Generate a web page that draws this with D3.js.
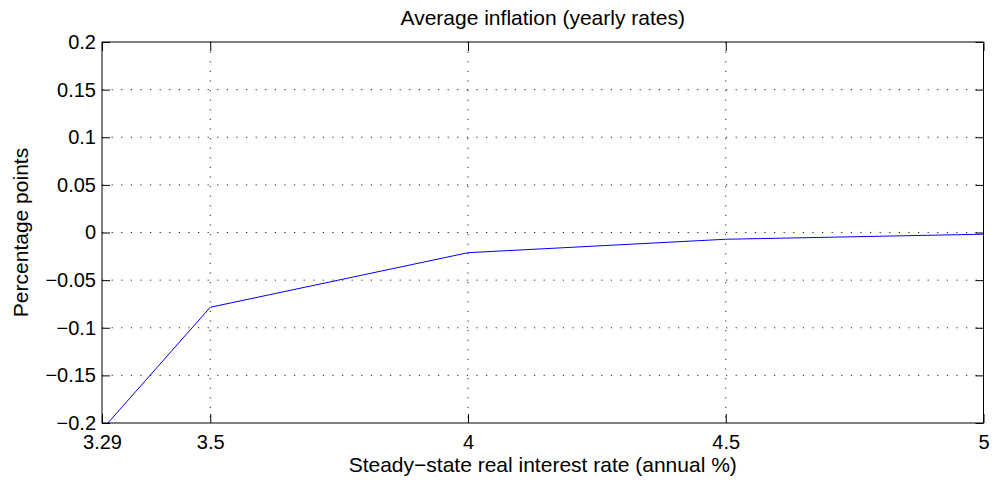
<!DOCTYPE html>
<html>
<head>
    <title>Average inflation (yearly rates)</title>
    <script src="https://d3js.org/d3.v7.min.js"></script>
    <style>
        body {
            margin: 0;
            background: #fff;
        }
        svg text {
            font-family: "Liberation Sans", Arial, sans-serif;
            fill: #000;
        }
    </style>
</head>
<body>
    <div id="chart"></div>
    <script>
        // Data
        const rates = [3.29, 3.5, 4, 4.5, 5];
        const inflation = [-0.207, -0.0785, -0.0212, -0.0071, -0.0018];
        const xTicks = [3.29, 3.5, 4, 4.5, 5];
        const yTicks = [-0.2, -0.15, -0.1, -0.05, 0, 0.05, 0.1, 0.15, 0.2];

        const width = 1001, height = 486;
        const margin = {top: 42, right: 17.5, bottom: 63, left: 102};
        const innerW = width - margin.left - margin.right;
        const innerH = height - margin.top - margin.bottom;

        const svg = d3.select('#chart')
            .append('svg')
            .attr('width', width)
            .attr('height', height);

        const x = d3.scaleLinear().domain([3.29, 5]).range([0, innerW]);
        const y = d3.scaleLinear().domain([-0.2, 0.2]).range([innerH, 0]);

        const fmt = d => d === 0 ? '0' : String(d).replace('-', '\u2212');

        const g = svg.append('g')
            .attr('transform', `translate(${margin.left},${margin.top})`);

        svg.append('defs').append('clipPath')
            .attr('id', 'plot-clip')
            .append('rect')
            .attr('width', innerW)
            .attr('height', innerH);

        // Dotted grid
        g.append('g')
            .selectAll('line')
            .data(yTicks.slice(1, -1))
            .join('line')
            .attr('x1', 0).attr('x2', innerW)
            .attr('y1', d => y(d)).attr('y2', d => y(d))
            .attr('stroke', '#222')
            .attr('stroke-width', 1)
            .attr('stroke-dasharray', '1.2,8.4');

        g.append('g')
            .selectAll('line')
            .data(xTicks.slice(1, -1))
            .join('line')
            .attr('x1', d => x(d)).attr('x2', d => x(d))
            .attr('y1', 0).attr('y2', innerH)
            .attr('stroke', '#222')
            .attr('stroke-width', 1)
            .attr('stroke-dasharray', '1.2,8.4');

        // Series
        const line = d3.line()
            .x((d, i) => x(rates[i]))
            .y(d => y(d));

        g.append('path')
            .datum(inflation)
            .attr('clip-path', 'url(#plot-clip)')
            .attr('fill', 'none')
            .attr('stroke', '#0000ff')
            .attr('stroke-width', 1)
            .attr('d', line);

        // Axes with inward ticks on all four sides
        const axisStyle = sel => {
            sel.select('.domain').remove();
            sel.selectAll('line').attr('stroke', '#000');
            sel.selectAll('text').style('font-size', '20px');
        };

        g.append('g')
            .attr('transform', `translate(0,${innerH})`)
            .call(d3.axisBottom(x).tickValues(xTicks).tickFormat(fmt).tickSizeInner(-9).tickPadding(12))
            .call(axisStyle);

        g.append('g')
            .call(d3.axisTop(x).tickValues(xTicks).tickFormat('').tickSizeInner(-9))
            .call(axisStyle);

        g.append('g')
            .call(d3.axisLeft(y).tickValues(yTicks).tickFormat(fmt).tickSizeInner(-8).tickPadding(6))
            .call(axisStyle);

        g.append('g')
            .attr('transform', `translate(${innerW},0)`)
            .call(d3.axisRight(y).tickValues(yTicks).tickFormat('').tickSizeInner(-8))
            .call(axisStyle);

        // Frame
        g.append('rect')
            .attr('width', innerW)
            .attr('height', innerH)
            .attr('fill', 'none')
            .attr('stroke', '#000')
            .attr('stroke-width', 1);

        // Titles
        svg.append('text')
            .attr('x', margin.left + innerW / 2)
            .attr('y', 25)
            .attr('text-anchor', 'middle')
            .style('font-size', '21px')
            .text('Average inflation (yearly rates)');

        svg.append('text')
            .attr('x', margin.left + innerW / 2)
            .attr('y', 472)
            .attr('text-anchor', 'middle')
            .style('font-size', '21px')
            .text('Steady\u2212state real interest rate (annual %)');

        svg.append('text')
            .attr('transform', `translate(28,${margin.top + innerH / 2}) rotate(-90)`)
            .attr('text-anchor', 'middle')
            .style('font-size', '21px')
            .text('Percentage points');
    </script>
</body>
</html>
